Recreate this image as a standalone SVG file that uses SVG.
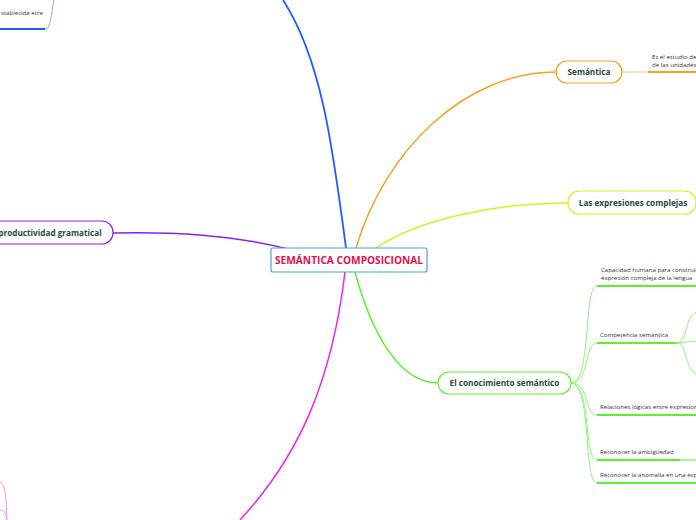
<svg xmlns="http://www.w3.org/2000/svg" width="696" height="520" viewBox="0 0 696 520">
<style>
.node rect{fill:#fff;stroke-width:1.2}
.lbl{font-family:"Open Sans","Liberation Sans",sans-serif;font-weight:bold;font-size:8.2px;fill:#1d4a3a}
.sub{font-family:"Open Sans","Liberation Sans",sans-serif;font-size:6.1px;fill:#333}
.c{fill:none}
</style>
<rect width="696" height="520" fill="#fff"/>
<g id="connectors">
  <path class="c" d="M346,248 C333,150 322,60 283,0" stroke="#1f5cff" stroke-width="1.8"/>
  <path class="c" d="M45,29 C51,29 51,14 54,0" stroke="#7fa0ff" stroke-width="1"/>
  <path class="c" d="M0,29 L45,29" stroke="#1f5cff" stroke-width="2"/>
  <path class="c" d="M356,248 C385,150 465,72 556,72" stroke="#f5a020" stroke-width="1.5"/>
  <path class="c" d="M622,72 L648,72" stroke="#fbc878" stroke-width="1"/>
  <path class="c" d="M648,72 L696,72" stroke="#f5a020" stroke-width="2"/>
  <path class="c" d="M376,248 C420,218 500,203 568,203" stroke="#d8f020" stroke-width="1.5"/>
  <path class="c" d="M113,233 C190,231 245,238 288,249" stroke="#8a20f0" stroke-width="1.5"/>
  <path class="c" d="M345,272 C332,380 300,455 240,520" stroke="#f020f0" stroke-width="1.5"/>
  <path class="c" d="M0,482 C6,484 6,500 7,520" stroke="#f590f5" stroke-width="1"/>
  <path class="c" d="M0,510 C5,511 6,515 7,520" stroke="#f590f5" stroke-width="1"/>
  <path class="c" d="M355,272 C372,335 400,383 438,383" stroke="#5ef030" stroke-width="1.5"/>
  <g stroke="#8ef57a" stroke-width="1" fill="none">
    <path d="M571,383 C592,383 583,286 597,286"/>
    <path d="M571,383 C590,383 584,343 597,343"/>
    <path d="M571,383 C590,383 584,415 597,415"/>
    <path d="M571,383 C592,383 583,460 597,460"/>
    <path d="M571,383 C592,383 583,483 597,483"/>
    <path d="M676,343 C688,343 684,318 696,312"/>
    <path d="M676,343 L696,341"/>
    <path d="M676,343 C688,343 684,368 696,374"/>
  </g>
  <g stroke="#5ef030" stroke-width="2">
    <line x1="597" y1="286" x2="696" y2="286"/>
    <line x1="597" y1="343" x2="676" y2="343"/>
    <line x1="597" y1="415" x2="696" y2="415"/>
    <line x1="597" y1="460" x2="680" y2="460"/>
    <line x1="680" y1="460" x2="696" y2="460" stroke="#a8f598"/>
    <line x1="597" y1="483" x2="696" y2="483"/>
  </g>
</g>
<g id="n-top"><text class="sub" x="1" y="15">stablecida etre</text></g>
<g id="n-center" class="node">
  <rect x="271" y="248" width="156" height="24" rx="2" stroke="#4aa0e0"/>
  <text x="349" y="264" text-anchor="middle" font-family="'Open Sans','Liberation Sans',sans-serif" font-weight="bold" font-size="10" textLength="148" lengthAdjust="spacingAndGlyphs" fill="#e0104f">SEMÁNTICA COMPOSICIONAL</text>
</g>
<g id="n-semantica" class="node">
  <rect x="556" y="61" width="66" height="22" rx="11" stroke="#f5a020"/>
  <text class="lbl" x="589" y="75" text-anchor="middle">Semántica</text>
</g>
<g id="n-sem-sub">
  <text class="sub" x="652" y="59">Es el estudio de</text>
  <text class="sub" x="652" y="67">de las unidades</text>
</g>
<g id="n-expresiones" class="node">
  <rect x="568" y="191" width="128" height="23" rx="11" stroke="#d8f020"/>
  <text class="lbl" x="633" y="206" text-anchor="middle">Las expresiones complejas</text>
</g>
<g id="n-productividad" class="node">
  <rect x="-12" y="221" width="125" height="23" rx="11" stroke="#8a20f0"/>
  <text class="lbl" x="50" y="235.5" text-anchor="middle">productividad gramatical</text>
</g>
<g id="n-conocimiento" class="node">
  <rect x="438" y="372" width="133" height="22" rx="11" stroke="#5ef030"/>
  <text class="lbl" x="504.5" y="386" text-anchor="middle">El conocimiento semántico</text>
</g>
<g id="n-capacidad">
  <text class="sub" x="601" y="272">Capacidad humana para construir</text>
  <text class="sub" x="601" y="280">expresión compleja de la lengua</text>
</g>
<g id="n-competencia"><text class="sub" x="600" y="337">Competencia semántica</text></g>
<g id="n-relaciones"><text class="sub" x="600" y="409">Relaciones lógicas entre expresion</text></g>
<g id="n-ambiguedad"><text class="sub" x="600" y="454">Reconocer la  ambigüedad</text></g>
<g id="n-anomalia"><text class="sub" x="600" y="477">Reconocer la anomalía en una exp</text></g>
</svg>
